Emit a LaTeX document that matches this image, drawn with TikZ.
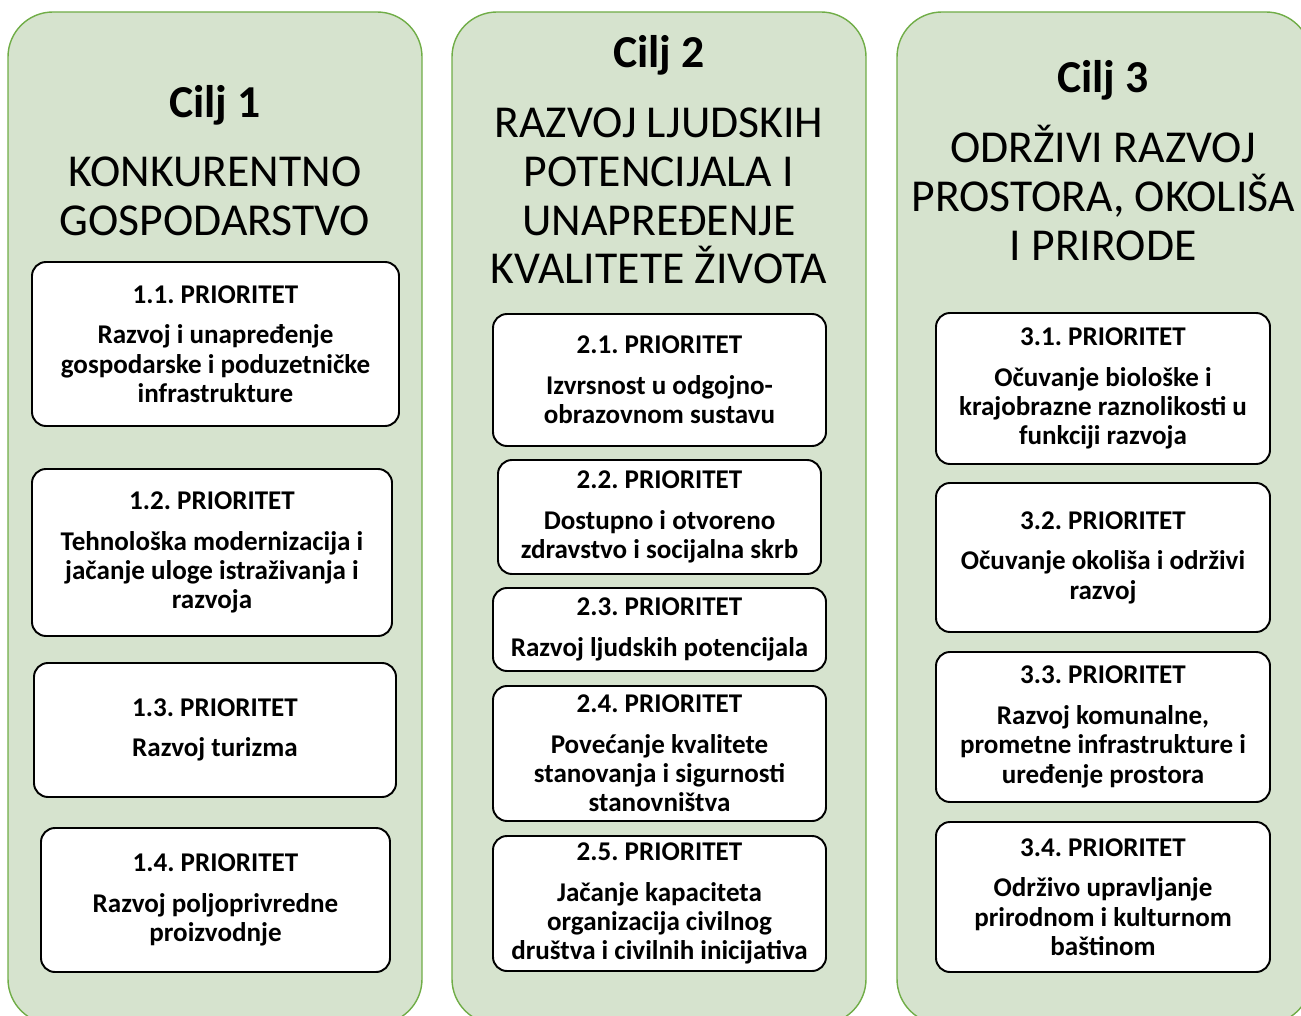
\documentclass[tikz,border=0pt]{standalone}
\usepackage{fontspec}
\setmainfont{Carlito}
\usepackage{tikz}
\definecolor{panelfill}{RGB}{214,227,206}
\definecolor{paneledge}{RGB}{112,173,71}
\def\px{0.02cm}
\tikzset{
	panel/.style={draw=paneledge, line width=0.8pt, fill=panelfill, rounded corners=0.9cm},
	prio/.style={draw=black, line width=1.1pt, fill=white, rounded corners=0.28cm, align=center, inner sep=0pt,
		font=\bfseries\fontsize{15.4}{16.7}\selectfont},
	cilj/.style={font=\bfseries\fontsize{26}{30}\selectfont},
	naslov/.style={align=center, font=\fontsize{26}{27.8}\selectfont}
}
\def\prio(#1)(#2,#3)(#4,#5)#6#7{\node[prio, minimum width=#4*\px, minimum height=#5*\px] (#1) at (#2,#3) {#6. PRIORITET\\[6.5pt]#7};}

\begin{document}
\frenchspacing
\begin{tikzpicture}[x=0.02cm, y=-0.02cm]
			%%%%% START %%%%%
			\useasboundingbox (0,0) rectangle (1301,1016);
			\clip (0,0) rectangle (1301,1016);
			
			\draw[panel] (8, 12) rectangle (422, 1024);
			\draw[panel] (452, 12) rectangle (866, 1024);
			\draw[panel] (897, 12) rectangle (1311, 1024);
			
			% Cilj 1
			\node[cilj] (c1) at (215, 105) {Cilj 1};
			\node[naslov] (n1) at (215, 196.5) {KONKURENTNO\\GOSPODARSTVO};
			
			\prio(p11)(215.5, 344)(367, 164){1.1}{Razvoj i unapređenje\\gospodarske i poduzetničke\\infrastrukture}
			\prio(p12)(212, 552.5)(360, 167){1.2}{Tehnološka modernizacija i\\jačanje uloge istraživanja i\\razvoja}
			\prio(p13)(215, 730)(362, 134){1.3}{Razvoj turizma}
			\prio(p14)(215.5, 900)(349, 144){1.4}{Razvoj poljoprivredne\\proizvodnje}
			
			% Cilj 2
			\node[cilj] (c2) at (659, 55) {Cilj 2};
			\node[naslov] (n2) at (659, 196) {RAZVOJ LJUDSKIH\\POTENCIJALA I\\UNAPREĐENJE\\KVALITETE ŽIVOTA};
			
			\prio(p21)(659.5, 380)(333, 132){2.1}{Izvrsnost u odgojno-\\obrazovnom sustavu}
			\prio(p22)(659.5, 517)(323, 114){2.2}{Dostupno i otvoreno\\zdravstvo i socijalna skrb}
			\prio(p23)(659.5, 629.5)(333, 83){2.3}{Razvoj ljudskih potencijala}
			\prio(p24)(659.5, 753.5)(333, 135){2.4}{Povećanje kvalitete\\stanovanja i sigurnosti\\stanovništva}
			\prio(p25)(659.5, 903.5)(333, 135){2.5}{Jačanje kapaciteta\\organizacija civilnog\\društva i civilnih inicijativa}
			
			% Cilj 3
			\node[cilj] (c3) at (1103, 80) {Cilj 3};
			\node[naslov] (n3) at (1103, 193) {ODRŽIVI RAZVOJ\\PROSTORA, OKOLIŠA\\I PRIRODE};
			
			\prio(p31)(1103, 388.5)(334, 151){3.1}{Očuvanje biološke i\\krajobrazne raznolikosti u\\funkciji razvoja}
			\prio(p32)(1103, 557.5)(334, 149){3.2}{Očuvanje okoliša i održivi\\razvoj}
			\prio(p33)(1103, 727)(334, 150){3.3}{Razvoj komunalne,\\prometne infrastrukture i\\uređenje prostora}
			\prio(p34)(1103, 897)(334, 150){3.4}{Održivo upravljanje\\prirodnom i kulturnom\\baštinom}
			
			%%%%% END %%%%%
\end{tikzpicture}
\end{document}
